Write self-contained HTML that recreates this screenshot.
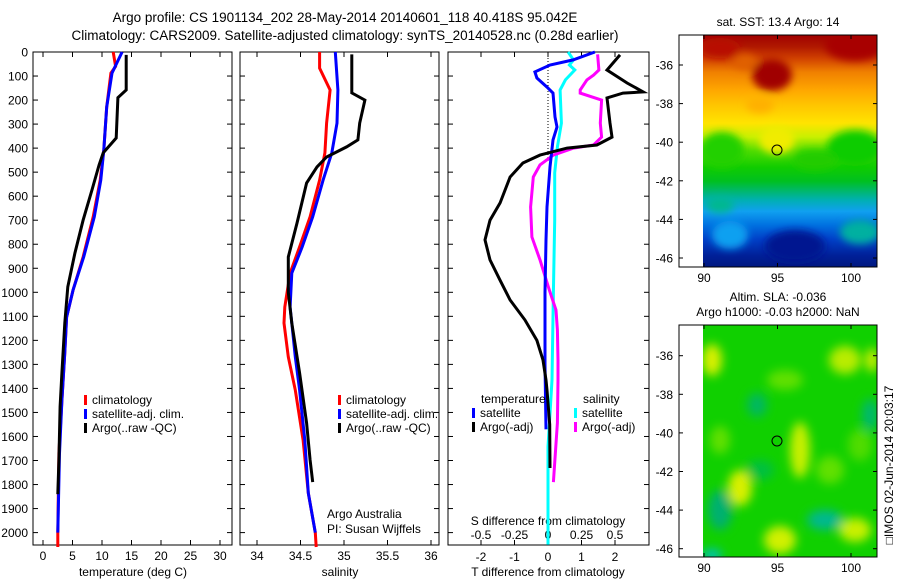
<!DOCTYPE html>
<html><head><meta charset="utf-8">
<style>
html,body{margin:0;padding:0;background:#fff;}
svg{display:block;font-family:"Liberation Sans",sans-serif;}
text{fill:#000;}
</style></head>
<body>
<svg id="fig" width="900" height="580" viewBox="0 0 900 580" xmlns="http://www.w3.org/2000/svg">
<defs>
<linearGradient id="sstGrad" x1="0" y1="0" x2="0" y2="1">
<stop offset="0" stop-color="#a00000"/><stop offset="0.05" stop-color="#b01800"/>
<stop offset="0.1" stop-color="#d04000"/><stop offset="0.16" stop-color="#f08000"/>
<stop offset="0.24" stop-color="#ffa800"/><stop offset="0.3" stop-color="#ffc400"/>
<stop offset="0.38" stop-color="#ffe400"/><stop offset="0.44" stop-color="#c8f000"/>
<stop offset="0.5" stop-color="#50dc00"/><stop offset="0.57" stop-color="#10cc00"/>
<stop offset="0.63" stop-color="#00c020"/><stop offset="0.67" stop-color="#00b868"/>
<stop offset="0.71" stop-color="#00b0b0"/><stop offset="0.76" stop-color="#10a0f0"/>
<stop offset="0.82" stop-color="#0070e0"/><stop offset="0.88" stop-color="#0040c8"/>
<stop offset="0.95" stop-color="#002098"/><stop offset="1" stop-color="#001880"/>
</linearGradient>
<filter id="blur4"><feGaussianBlur stdDeviation="4"/></filter>
<filter id="blur6"><feGaussianBlur stdDeviation="5"/></filter>
<clipPath id="clipM1"><rect x="703" y="35" width="174" height="232"/></clipPath>
<clipPath id="clipM2"><rect x="703" y="325" width="174" height="232"/></clipPath>
</defs>

<text x="345" y="22" font-size="13.5" text-anchor="middle">Argo profile: CS 1901134_202 28-May-2014 20140601_118 40.418S 95.042E</text>
<text x="345" y="40" font-size="13.5" text-anchor="middle">Climatology: CARS2009. Satellite-adjusted climatology: synTS_20140528.nc (0.28d earlier)</text>

<g>
<g clip-path="url(#clipM1)">
<rect x="703" y="35" width="174" height="232" fill="url(#sstGrad)"/>
<g filter="url(#blur4)">
<ellipse cx="772" cy="75" rx="20" ry="16" fill="#a00000"/>
<ellipse cx="855" cy="45" rx="30" ry="16" fill="#a80000"/>
<ellipse cx="720" cy="48" rx="20" ry="10" fill="#b81000"/>
<ellipse cx="745" cy="62" rx="12" ry="8" fill="#e06000"/>
<ellipse cx="722" cy="150" rx="22" ry="18" fill="#20d000"/>
<ellipse cx="855" cy="148" rx="28" ry="18" fill="#10cc00"/>
<ellipse cx="815" cy="160" rx="22" ry="10" fill="#20cc00"/>
<ellipse cx="760" cy="105" rx="14" ry="8" fill="#ffb000"/>
<ellipse cx="777" cy="140" rx="18" ry="14" fill="#f0ec00"/>
<ellipse cx="795" cy="246" rx="30" ry="16" fill="#001890"/>
<ellipse cx="860" cy="232" rx="20" ry="12" fill="#00b0a0"/>
<ellipse cx="730" cy="235" rx="18" ry="14" fill="#10a0f0"/>
<ellipse cx="720" cy="205" rx="14" ry="8" fill="#00b890"/>
</g>
</g>
<rect x="679" y="35" width="198" height="232" fill="none" stroke="#000" stroke-width="1"/>
<circle cx="777" cy="150" r="5" fill="none" stroke="#000" stroke-width="1"/>
<text x="778" y="26" font-size="12" text-anchor="middle">sat. SST: 13.4  Argo: 14</text>
</g>

<g>
<g clip-path="url(#clipM2)">
<rect x="703" y="325" width="174" height="232" fill="#10d000"/>
<g filter="url(#blur6)">
<ellipse cx="712" cy="360" rx="10" ry="16" fill="#d8f000"/>
<ellipse cx="845" cy="360" rx="16" ry="14" fill="#b8ec00"/>
<ellipse cx="872" cy="360" rx="6" ry="12" fill="#d8f000"/>
<ellipse cx="800" cy="450" rx="10" ry="28" fill="#c8f000"/>
<ellipse cx="740" cy="488" rx="12" ry="18" fill="#d8f000"/>
<ellipse cx="780" cy="540" rx="16" ry="14" fill="#d0f000"/>
<ellipse cx="855" cy="530" rx="16" ry="12" fill="#c8f000"/>
<ellipse cx="720" cy="440" rx="10" ry="14" fill="#60e000"/>
<ellipse cx="785" cy="380" rx="18" ry="10" fill="#60e000"/>
<ellipse cx="830" cy="470" rx="14" ry="14" fill="#60e000"/>
<ellipse cx="860" cy="445" rx="12" ry="16" fill="#50dc00"/>
<ellipse cx="757" cy="405" rx="10" ry="12" fill="#00b860"/>
<ellipse cx="720" cy="510" rx="12" ry="20" fill="#00b070"/>
<ellipse cx="825" cy="520" rx="18" ry="10" fill="#00b890"/>
<ellipse cx="870" cy="415" rx="8" ry="16" fill="#00b870"/>
<ellipse cx="760" cy="470" rx="14" ry="10" fill="#00c040"/>
<ellipse cx="712" cy="555" rx="10" ry="6" fill="#00c0c0"/>
</g>
</g>
<rect x="679" y="325" width="198" height="232" fill="none" stroke="#000" stroke-width="1"/>
<circle cx="777" cy="441" r="5" fill="none" stroke="#000" stroke-width="1"/>
<text x="778" y="301" font-size="12" text-anchor="middle">Altim. SLA: -0.036</text>
<text x="778" y="316" font-size="12" text-anchor="middle">Argo h1000: -0.03 h2000: NaN</text>
<text transform="translate(893,465) rotate(-90)" font-size="12" text-anchor="middle">□IMOS 02-Jun-2014 20:03:17</text>
</g>

<g id="dyn"></g>
</svg>

<script>
var depthTicks = [0,100,200,300,400,500,600,700,800,900,1000,1100,1200,1300,1400,1500,1600,1700,1800,1900,2000];
var tempTicks = [0,5,10,15,20,25,30];
var salTicks = [34,34.5,35,35.5,36];
var salTickLabels = ["34","34.5","35","35.5","36"];
var tdiffTicks = [-2,-1,0,1,2];
var sdiffTicks = [-0.5,-0.25,0,0.25,0.5];
var sdiffTickLabels = ["-0.5","-0.25","0","0.25","0.5"];
var lonTicks = [90,95,100];
var latTicks = [-36,-38,-40,-42,-44,-46];

var tClimDepth = [0,60,88,229,408,533,686,853,990,1103,1250,1450,1670,2000,2060];
var tClimVal   = [11.9,12.3,11.5,10.8,10.3,9.7,8.5,6.8,5.1,4.0,3.7,3.2,2.7,2.5,2.5];
var tSatDepth  = [0,88,229,408,533,686,853,990,1103,1250,1450,1670,2000];
var tSatVal    = [13.4,11.7,10.8,10.3,9.8,8.7,6.9,5.1,4.0,3.7,3.2,2.8,2.5];
var tArgoDepth = [12,158,190,358,420,470,574,700,837,977,1128,1336,1476,1700,1840];
var tArgoVal   = [14.1,14.1,12.7,12.4,10.2,9.5,8.3,6.8,5.4,4.2,3.7,3.2,2.9,2.7,2.5];

var sClimDepth = [0,67,158,296,420,533,686,811,920,1061,1128,1269,1407,1615,1835,2000,2060];
var sClimVal   = [34.72,34.72,34.84,34.80,34.78,34.72,34.61,34.49,34.38,34.32,34.31,34.36,34.44,34.53,34.59,34.67,34.68];
var sSatDepth  = [0,158,296,420,533,686,811,920,1061,1128,1269,1407,1615,1835,2000];
var sSatVal    = [34.90,34.93,34.92,34.86,34.76,34.64,34.52,34.40,34.38,34.40,34.44,34.49,34.55,34.59,34.67];
var sArgoDepth = [10,170,200,296,366,395,437,478,545,712,853,1000,1128,1336,1544,1698,1790];
var sArgoVal   = [35.09,35.09,35.24,35.18,35.16,35.03,34.80,34.69,34.57,34.46,34.36,34.36,34.40,34.49,34.57,34.61,34.64];

var dTSatDepth = [0,33,54,83,108,146,171,270,312,366,478,645,782,1000,1300,1570];
var dTSatVal   = [1.4,0.75,0.06,-0.39,-0.33,-0.03,0.15,0.21,0.27,0.15,0.06,-0.03,-0.06,-0.09,-0.09,-0.06];
var dTArgoDepth = [12,75,129,166,171,191,296,354,387,400,429,462,520,628,700,782,865,950,1032,1115,1200,1282,1365,1407,1550,1731];
var dTArgoVal   = [2.15,1.76,2.36,2.84,2.24,1.76,1.85,1.91,1.46,0.57,-0.24,-0.75,-1.13,-1.43,-1.73,-1.88,-1.73,-1.43,-1.13,-0.69,-0.33,-0.15,-0.06,-0.03,0.05,0.06];
var dSSatDepth = [0,33,54,75,116,158,296,395,503,700,1000,1365,1643,2050];
var dSSatVal   = [0.15,0.19,0.16,0.2,0.13,0.09,0.10,0.07,0.05,0.05,0.04,0.03,0.0,0.0];
var dSArgoDepth = [10,75,96,116,158,171,200,296,354,387,400,429,470,520,645,770,865,990,1074,1157,1282,1365,1544,1790];
var dSArgoVal   = [0.37,0.38,0.34,0.29,0.24,0.24,0.40,0.39,0.40,0.34,0.19,0.04,-0.06,-0.11,-0.13,-0.12,-0.06,0.01,0.06,0.07,0.075,0.075,0.07,0.04];

var Y0 = 52, PY = 0.2403;
function yD(d){ return Y0 + d*PY; }
function xT(t){ return 43 + t*5.9; }
function xS(s){ return 257 + (s-34)*87; }
function xDT(t){ return 548 + t*33.5; }
function xDS(s){ return 548 + s*134; }
function xLon(l){ return 704 + (l-90)*14.7; }
function yLat1(l){ return 65 + (-36-l)*19.3; }
function yLat2(l){ return 355.7 + (-36-l)*19.3; }

var NS = "http://www.w3.org/2000/svg";
var root = document.getElementById('dyn');
function mk(tag, attrs, parent){
  var e = document.createElementNS(NS, tag);
  for (var k in attrs) e.setAttribute(k, attrs[k]);
  (parent||root).appendChild(e);
  return e;
}
function txt(x,y,s,size,anchor,name,parent){
  var t = mk('text',{x:x,y:y,'font-size':size,'text-anchor':anchor||'start'},parent);
  t.textContent = s;
  
  
  return t;
}
function profile(depths, vals, xf, color, name, w){
  var pts = [];
  for (var i=0;i<depths.length;i++) pts.push(xf(vals[i]).toFixed(1)+','+yD(depths[i]).toFixed(1));
  var p = mk('polyline',{points:pts.join(' '),fill:'none',stroke:color,'stroke-width':w||3,'stroke-linejoin':'miter'});
  
  
  return p;
}
var PT=52, PB=545;
function panelFrame(x0,x1,name){
  var r = mk('rect',{x:x0,y:PT,width:x1-x0,height:PB-PT,fill:'none',stroke:'#000','stroke-width':1});
  
  
  depthTicks.forEach(function(d){
    mk('line',{x1:x0,x2:x0+5,y1:yD(d),y2:yD(d),stroke:'#000'});
    mk('line',{x1:x1,x2:x1-5,y1:yD(d),y2:yD(d),stroke:'#000'});
  });
}
function xTicks(vals, xf){
  vals.forEach(function(v){
    mk('line',{x1:xf(v),x2:xf(v),y1:PT,y2:PT+5,stroke:'#000'});
    mk('line',{x1:xf(v),x2:xf(v),y1:PB,y2:PB-5,stroke:'#000'});
  });
}

panelFrame(33,232,'temperature-panel');
xTicks(tempTicks, xT);
depthTicks.forEach(function(d){ txt(28, yD(d)+4.5, String(d), 12, 'end', 'depth-tick-label'); });
tempTicks.forEach(function(t){ txt(xT(t), 560, String(t), 12, 'middle', 'temperature-tick-label'); });
txt(133, 576, 'temperature (deg C)', 12, 'middle', 'temperature-axis-title');
profile(tClimDepth, tClimVal, xT, '#ff0000', 'temp-climatology-line');
profile(tSatDepth, tSatVal, xT, '#0000ff', 'temp-satellite-line');
profile(tArgoDepth, tArgoVal, xT, '#000000', 'temp-argo-line');

panelFrame(240,439,'salinity-panel');
xTicks(salTicks, xS);
salTicks.forEach(function(s,i){ txt(xS(s), 560, salTickLabels[i], 12, 'middle', 'salinity-tick-label'); });
txt(340, 576, 'salinity', 12, 'middle', 'salinity-axis-title');
profile(sClimDepth, sClimVal, xS, '#ff0000', 'sal-climatology-line');
profile(sSatDepth, sSatVal, xS, '#0000ff', 'sal-satellite-line');
profile(sArgoDepth, sArgoVal, xS, '#000000', 'sal-argo-line');
txt(327, 518, 'Argo Australia', 12, 'start', 'argo-australia-label');
txt(327, 533, 'PI: Susan Wijffels', 12, 'start', 'pi-label');

panelFrame(448,649,'difference-panel');
xTicks(tdiffTicks, xDT);
mk('line',{x1:548,x2:548,y1:PT,y2:yD(460),stroke:'#000','stroke-dasharray':'1,2'});
tdiffTicks.forEach(function(t){ txt(xDT(t), 561, String(t), 12, 'middle', 'tdiff-tick-label'); });
sdiffTicks.forEach(function(s,i){ txt(xDS(s), 539, sdiffTickLabels[i], 12, 'middle', 'sdiff-tick-label'); });
txt(548, 525, 'S difference from climatology', 12, 'middle', 'sdiff-axis-title');
txt(548, 576, 'T difference from climatology', 12, 'middle', 'tdiff-axis-title');
profile(dSSatDepth, dSSatVal, xDS, '#00ffff', 'sdiff-satellite-line');
profile(dSArgoDepth, dSArgoVal, xDS, '#ff00ff', 'sdiff-argo-line');
profile(dTSatDepth, dTSatVal, xDT, '#0000ff', 'tdiff-satellite-line');
profile(dTArgoDepth, dTArgoVal, xDT, '#000000', 'tdiff-argo-line');

function legend(x, y, color, label, name){
  var g = mk('g',{});
  
  
  mk('rect',{x:x,y:y-9,width:3,height:10,fill:color},g);
  txt(x+8, y, label, 12, 'start', name+'-label', g);
}
legend(84, 404, '#ff0000', 'climatology', 'legend-climatology');
legend(84, 418, '#0000ff', 'satellite-adj. clim.', 'legend-satellite');
legend(84, 432, '#000000', 'Argo(..raw -QC)', 'legend-argo');
legend(338, 404, '#ff0000', 'climatology', 'legend-sal-climatology');
legend(338, 418, '#0000ff', 'satellite-adj. clim.', 'legend-sal-satellite');
legend(338, 432, '#000000', 'Argo(..raw -QC)', 'legend-sal-argo');
txt(481, 403, 'temperature', 12, 'start', 'legend-temperature-header');
txt(583, 403, 'salinity', 12, 'start', 'legend-salinity-header');
legend(472, 417, '#0000ff', 'satellite', 'legend-tdiff-satellite');
legend(472, 431, '#000000', 'Argo(-adj)', 'legend-tdiff-argo');
legend(574, 417, '#00ffff', 'satellite', 'legend-sdiff-satellite');
legend(574, 431, '#ff00ff', 'Argo(-adj)', 'legend-sdiff-argo');

function mapAxes(top, bottom, yLat, prefix){
  lonTicks.forEach(function(l){
    mk('line',{x1:xLon(l),x2:xLon(l),y1:top,y2:top+4,stroke:'#000'});
    mk('line',{x1:xLon(l),x2:xLon(l),y1:bottom,y2:bottom-4,stroke:'#000'});
    txt(xLon(l), bottom+15, String(l), 12, 'middle', prefix+'-lon-label');
  });
  latTicks.forEach(function(l){
    mk('line',{x1:679,x2:683,y1:yLat(l),y2:yLat(l),stroke:'#000'});
    mk('line',{x1:877,x2:873,y1:yLat(l),y2:yLat(l),stroke:'#000'});
    txt(673, yLat(l)+4.5, String(l), 12, 'end', prefix+'-lat-label');
  });
}
mapAxes(35, 267, yLat1, 'sst-map');
mapAxes(325, 557, yLat2, 'sla-map');
</script>
</body></html>
